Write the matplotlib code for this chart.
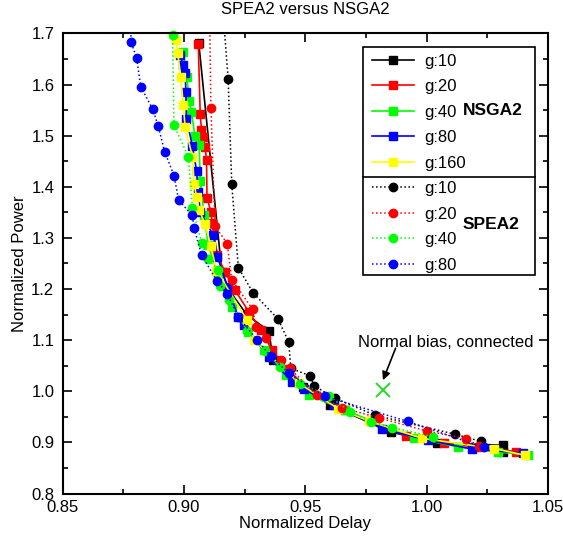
import matplotlib
matplotlib.use("Agg")
import matplotlib.pyplot as plt
from matplotlib.lines import Line2D
from matplotlib.patches import Rectangle
from matplotlib.ticker import MultipleLocator, FormatStrFormatter

plt.rcParams['font.family'] = ['Liberation Sans', 'DejaVu Sans']

# ---------------- data ----------------
# NSGA2 (solid lines, square markers)
nsga_g10_x = [0.9061, 0.9156, 0.9186, 0.9260, 0.9350, 0.9367, 0.9490, 0.9601, 0.9855, 1.0042, 1.0314, 1.0316]
nsga_g10_y = [1.681, 1.234, 1.198, 1.149, 1.118, 1.061, 1.008, 0.973, 0.920, 0.899, 0.8945, 0.881]

nsga_g20_x = [0.9059, 0.9067, 0.9072, 0.9079, 0.9087, 0.9093, 0.9095, 0.9111, 0.9116, 0.9138, 0.9169, 0.9210,
              0.9268, 0.9317, 0.9362, 0.9432, 0.9527, 0.9663, 0.9766, 0.9915, 1.0073, 1.0219, 1.0369]
nsga_g20_y = [1.679, 1.542, 1.512, 1.497, 1.478, 1.452, 1.379, 1.351, 1.329, 1.266, 1.233, 1.198,
              1.155, 1.120, 1.081, 1.041, 0.997, 0.963, 0.942, 0.912, 0.898, 0.890, 0.882]

nsga_g40_x = [0.8997, 0.9012, 0.9022, 0.9030, 0.9046, 0.9063, 0.9067, 0.9083, 0.9100, 0.9141, 0.9199, 0.9265,
              0.9330, 0.9421, 0.9514, 0.9663, 0.9948, 1.0130, 1.0295, 1.0418]
nsga_g40_y = [1.664, 1.615, 1.568, 1.547, 1.499, 1.482, 1.412, 1.345, 1.286, 1.227, 1.165, 1.116,
              1.081, 1.032, 0.993, 0.963, 0.909, 0.891, 0.881, 0.876]

nsga_g80_x = [0.8983, 0.8998, 0.9005, 0.9008, 0.9010, 0.9035, 0.9052, 0.9059, 0.9067, 0.9120, 0.9138, 0.9179,
              0.9223, 0.9247, 0.9350, 0.9446, 0.9494, 0.9617, 0.9815, 1.0007, 1.0186, 1.0397]
nsga_g80_y = [1.658, 1.638, 1.622, 1.586, 1.532, 1.480, 1.431, 1.390, 1.351, 1.306, 1.263, 1.204,
              1.146, 1.129, 1.067, 1.018, 1.004, 0.973, 0.927, 0.904, 0.887, 0.879]

nsga_g160_x = [0.8969, 0.8974, 0.8987, 0.8997, 0.9005, 0.9035, 0.9042, 0.9052, 0.9063, 0.9087, 0.9111, 0.9134,
               0.9261, 0.9289, 0.9473, 0.9635, 0.9761, 0.9980, 1.0278, 1.0404]
nsga_g160_y = [1.687, 1.662, 1.615, 1.560, 1.516, 1.459, 1.405, 1.380, 1.354, 1.328, 1.284, 1.236,
               1.139, 1.100, 1.016, 0.966, 0.942, 0.908, 0.888, 0.875]

# SPEA2 (dotted lines, circle markers)
spea_g10_x = [0.9158, 0.9182, 0.9197, 0.9224, 0.9284, 0.9388, 0.9432, 0.9440, 0.9521, 0.9535, 0.9624, 0.9788,
              1.0117, 1.0224]
spea_g10_y = [1.76, 1.611, 1.405, 1.242, 1.193, 1.141, 1.096, 1.045, 1.030, 1.011, 0.986, 0.953,
              0.916, 0.902]

spea_g20_x = [0.9105, 0.9111, 0.9128, 0.9178, 0.9197, 0.9284, 0.9295, 0.9339, 0.9399, 0.9436, 0.9548, 0.9651,
              0.9802, 1.0003, 1.0164, 1.0215]
spea_g20_y = [1.76, 1.555, 1.323, 1.289, 1.218, 1.160, 1.125, 1.104, 1.061, 1.045, 0.992, 0.968,
              0.948, 0.922, 0.907, 0.893]

spea_g40_x = [0.8953, 0.8959, 0.9018, 0.9035, 0.9073, 0.9097, 0.9142, 0.9150, 0.9184, 0.9261, 0.9332, 0.9394,
              0.9480, 0.9599, 0.9686, 0.9772, 0.9859, 1.0028]
spea_g40_y = [1.697, 1.520, 1.459, 1.358, 1.291, 1.258, 1.238, 1.206, 1.178, 1.118, 1.079, 1.048,
              1.015, 0.990, 0.960, 0.940, 0.929, 0.911]

spea_g80_x = [0.8779, 0.8782, 0.8805, 0.8822, 0.8871, 0.8894, 0.8920, 0.8959, 0.8978, 0.9034, 0.9042, 0.9073,
              0.9137, 0.9178, 0.9224, 0.9302, 0.9357, 0.9432, 0.9580, 0.9922, 1.0237]
spea_g80_y = [1.76, 1.683, 1.652, 1.596, 1.552, 1.519, 1.469, 1.422, 1.374, 1.344, 1.319, 1.266,
              1.215, 1.191, 1.145, 1.100, 1.069, 1.035, 0.990, 0.941, 0.890]

normal_bias_x = [0.982]
normal_bias_y = [1.003]

nsga_labels = ['g:10', 'g:20', 'g:40', 'g:80', 'g:160']
spea_labels = ['g:10', 'g:20', 'g:40', 'g:80']
nsga_colors = ['#000000', '#ff0000', '#00ff00', '#0000ff', '#ffff00']
spea_colors = ['#000000', '#ff0000', '#00ff00', '#0000ff']

xticks = [0.85, 0.90, 0.95, 1.00, 1.05]
yticks = [0.8, 0.9, 1.0, 1.1, 1.2, 1.3, 1.4, 1.5, 1.6, 1.7]

# ---------------- figure ----------------
fig = plt.figure(figsize=(5.63, 5.39), dpi=100)
ax = fig.add_axes([0.1112, 0.0844, 0.8622, 0.8536])

nsga_x = [nsga_g10_x, nsga_g20_x, nsga_g40_x, nsga_g80_x, nsga_g160_x]
nsga_y = [nsga_g10_y, nsga_g20_y, nsga_g40_y, nsga_g80_y, nsga_g160_y]
spea_x = [spea_g10_x, spea_g20_x, spea_g40_x, spea_g80_x]
spea_y = [spea_g10_y, spea_g20_y, spea_g40_y, spea_g80_y]

handles = []
for xs, ys, c, lab in zip(nsga_x, nsga_y, nsga_colors, nsga_labels):
    h, = ax.plot(xs, ys, '-', color=c, lw=1.2, marker='s', ms=5.8, mfc=c, mec=c, label=lab)
    handles.append(h)
for xs, ys, c, lab in zip(spea_x, spea_y, spea_colors, spea_labels):
    h, = ax.plot(xs, ys, ':', color=c, lw=1.1, marker='o', ms=6.0, mfc=c, mec=c, label=lab)
    handles.append(h)
    if c == '#00ff00':
        h.set_clip_on(False)

ax.plot(normal_bias_x, normal_bias_y, linestyle='none', marker='x', ms=10, mew=1.4, color='#22dd22')
ax.annotate('', xy=(0.9820, 1.0217), xytext=(0.9872, 1.0843),
            arrowprops=dict(arrowstyle='-|>', color='black', lw=1.2, mutation_scale=12, shrinkA=0, shrinkB=0))
ax.text(1.0079, 1.096, 'Normal bias, connected', ha='center', va='center', fontsize=12)

ax.set_xlim(0.85, 1.05)
ax.set_ylim(0.8, 1.7)
ax.set_xticks(xticks)
ax.set_yticks(yticks)
ax.xaxis.set_major_formatter(FormatStrFormatter('%.2f'))
ax.yaxis.set_major_formatter(FormatStrFormatter('%.1f'))
ax.xaxis.set_minor_locator(MultipleLocator(0.025))
ax.yaxis.set_minor_locator(MultipleLocator(0.05))
ax.tick_params(which='both', direction='in', top=True, right=True, labelsize=12, width=1.2)
ax.tick_params(axis='x', which='both', pad=4.5)
ax.tick_params(axis='y', which='both', pad=6)
ax.tick_params(which='major', length=6.5)
ax.tick_params(which='minor', length=3.5)
for s in ax.spines.values():
    s.set_linewidth(1.5)

ax.set_xlabel('Normalized Delay', fontsize=12, labelpad=1)
ax.set_ylabel('Normalized Power', fontsize=12, labelpad=3)
ax.set_title('SPEA2 versus NSGA2', fontsize=12, pad=14)

# legend box (frame drawn separately, with a divider between the two groups)
ax.add_patch(Rectangle((0.618, 0.4749), 0.355, 0.4951, transform=ax.transAxes, facecolor='white',
                       edgecolor='black', lw=1.2, zorder=4))
ax.add_line(Line2D([0.618, 0.973], [0.6886, 0.6886], transform=ax.transAxes, color='black', lw=1.2, zorder=4.5))
leg = ax.legend(handles=handles, loc='upper left', bbox_to_anchor=(0.6374, 0.9563),
                borderaxespad=0, borderpad=0, fontsize=12, numpoints=1, handlelength=2.5,
                handletextpad=0.65, labelspacing=0.63, frameon=False)
leg.set_zorder(5)
ax.text(0.8255, 0.832, 'NSGA2', transform=ax.transAxes, fontsize=12.5, fontweight='bold', va='center', zorder=6)
ax.text(0.8235, 0.5857, 'SPEA2', transform=ax.transAxes, fontsize=12.5, fontweight='bold', va='center', zorder=6)

fig.savefig('out.png', dpi=100)
